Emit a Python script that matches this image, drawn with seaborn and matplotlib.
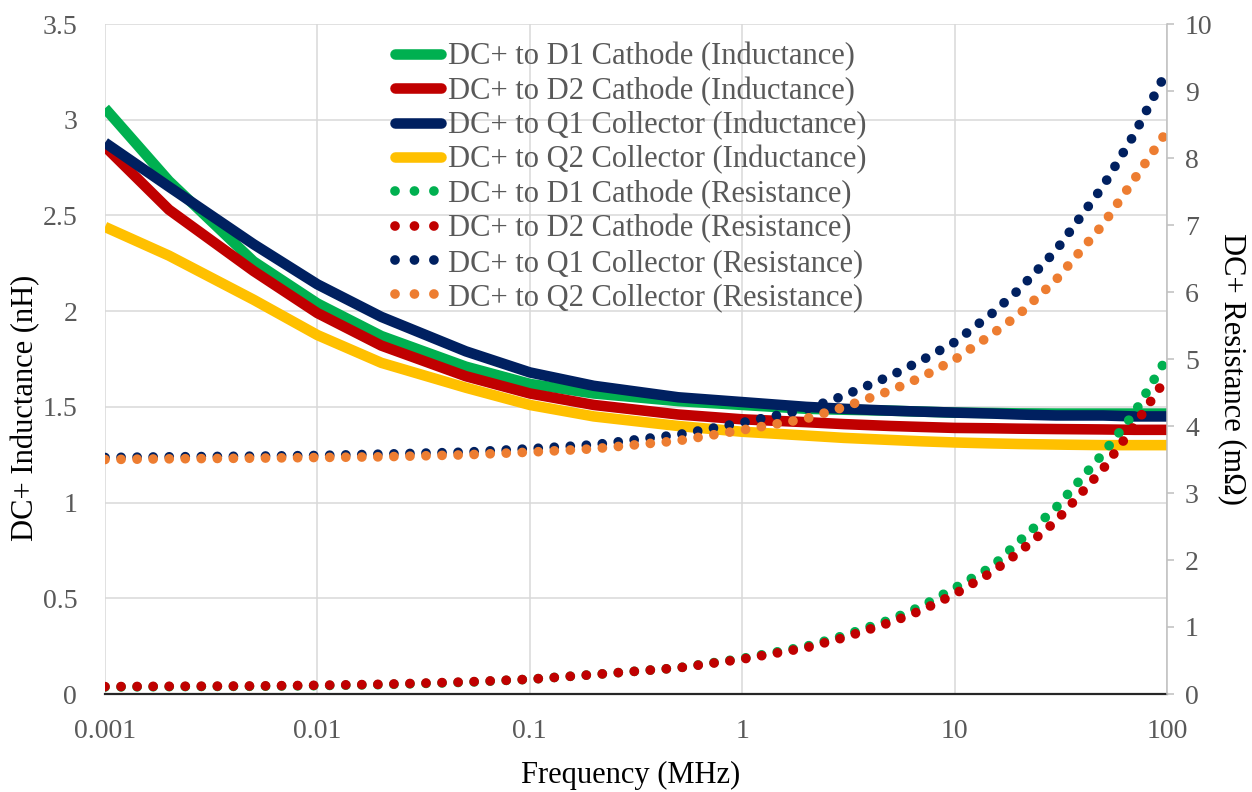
import numpy as np
import pandas as pd
import matplotlib
matplotlib.use("Agg")
import matplotlib.pyplot as plt
from matplotlib.lines import Line2D
from matplotlib.ticker import FixedLocator, FixedFormatter
import seaborn as sns

# Frequency sweep (MHz)
freq_mhz = [0.001, 0.002, 0.005, 0.01, 0.02, 0.05, 0.1, 0.2, 0.5, 1,
            2, 3, 5, 7, 10, 15, 20, 30, 50, 70, 100]

# Loop inductance (nH)
ind_d1 = [3.06, 2.68, 2.26, 2.04, 1.87, 1.71, 1.62, 1.57, 1.53, 1.51,
          1.49, 1.485, 1.48, 1.475, 1.47, 1.468, 1.466, 1.465, 1.465, 1.465, 1.465]
ind_d2 = [2.86, 2.53, 2.21, 1.99, 1.82, 1.66, 1.57, 1.51, 1.46, 1.435,
          1.42, 1.41, 1.40, 1.395, 1.39, 1.388, 1.386, 1.384, 1.382, 1.38, 1.38]
ind_q1 = [2.88, 2.65, 2.35, 2.14, 1.97, 1.79, 1.68, 1.61, 1.55, 1.525,
          1.50, 1.49, 1.48, 1.475, 1.47, 1.465, 1.46, 1.455, 1.455, 1.45, 1.45]
ind_q2 = [2.44, 2.29, 2.06, 1.875, 1.73, 1.60, 1.51, 1.45, 1.40, 1.37,
          1.35, 1.338, 1.327, 1.32, 1.314, 1.309, 1.306, 1.303, 1.30, 1.30, 1.30]

# Loop resistance (mOhm)
res_d1 = [0.105, 0.11, 0.115, 0.125, 0.14, 0.175, 0.22, 0.29, 0.39, 0.53,
          0.71, 0.87, 1.11, 1.31, 1.58, 1.90, 2.27, 2.78, 3.59, 4.19, 5.02]
res_d2 = [0.11, 0.115, 0.12, 0.13, 0.145, 0.18, 0.22, 0.29, 0.39, 0.52,
          0.69, 0.84, 1.07, 1.25, 1.49, 1.82, 2.11, 2.58, 3.36, 4.00, 4.73]
res_q1 = [3.53, 3.54, 3.55, 3.56, 3.58, 3.61, 3.66, 3.72, 3.87, 4.05,
          4.25, 4.45, 4.75, 4.98, 5.25, 5.68, 6.03, 6.62, 7.58, 8.35, 9.30]
res_q2 = [3.50, 3.51, 3.52, 3.53, 3.54, 3.57, 3.61, 3.66, 3.78, 3.94,
          4.11, 4.28, 4.53, 4.73, 4.99, 5.37, 5.66, 6.18, 7.01, 7.68, 8.40]

labels_ind = ["DC+ to D1 Cathode (Inductance)", "DC+ to D2 Cathode (Inductance)",
              "DC+ to Q1 Collector (Inductance)", "DC+ to Q2 Collector (Inductance)"]
labels_res = ["DC+ to D1 Cathode (Resistance)", "DC+ to D2 Cathode (Resistance)",
              "DC+ to Q1 Collector (Resistance)", "DC+ to Q2 Collector (Resistance)"]
colors_ind = ["#00B050", "#C00000", "#002060", "#FFC000"]
colors_res = ["#00B050", "#C00000", "#002060", "#ED7D31"]

x_ticks = [0.001, 0.01, 0.1, 1, 10, 100]
x_ticklabels = ["0.001", "0.01", "0.1", "1", "10", "100"]
l_ticks = [0, 0.5, 1, 1.5, 2, 2.5, 3, 3.5]
l_ticklabels = ["0", "0.5", "1", "1.5", "2", "2.5", "3", "3.5"]
r_ticks = list(range(0, 11))

sns.set_theme(style="white")
plt.rcParams["font.family"] = ["Liberation Serif", "DejaVu Serif"]

TXT = "#595959"
FS_TICK = 20
FS_TITLE = 22
FS_LEG = 22

W, H = 1252, 792
fig = plt.figure(figsize=(W / 100, H / 100), dpi=100)
ax = fig.add_axes([105 / W, 1 - 694 / H, (1167 - 105) / W, (694 - 24) / H])
ax2 = ax.twinx()

ind_df = pd.DataFrame({"f": freq_mhz * 4,
                       "v": ind_d1 + ind_d2 + ind_q1 + ind_q2,
                       "s": sum([[l] * len(freq_mhz) for l in labels_ind], [])})
res_df = pd.DataFrame({"f": freq_mhz * 4,
                       "v": res_d1 + res_d2 + res_q1 + res_q2,
                       "s": sum([[l] * len(freq_mhz) for l in labels_res], [])})

LW_SOLID = 7.6
LW_DOT = 7.0
dot_pattern = (0, (0.001, 1.65))

# Inductance on the left axis, resistance (round dots) on the right axis
for lab, col in zip(labels_ind, colors_ind):
    sns.lineplot(data=ind_df[ind_df.s == lab], x="f", y="v", ax=ax, color=col,
                 lw=LW_SOLID, solid_capstyle="butt", solid_joinstyle="round",
                 legend=False)
for lab, col in zip(labels_res, colors_res):
    sns.lineplot(data=res_df[res_df.s == lab], x="f", y="v", ax=ax2, color=col,
                 lw=LW_DOT, linestyle=dot_pattern, dash_capstyle="round",
                 legend=False)

for a in (ax, ax2):
    a.set_xscale("log")
    a.set_xlim(0.001, 100)
    a.set_xlabel("")
    a.set_ylabel("")

ax.set_ylim(0, 3.5)
ax2.set_ylim(0, 10)

ax.xaxis.set_major_locator(FixedLocator(x_ticks))
ax.xaxis.set_major_formatter(FixedFormatter(x_ticklabels))
ax.xaxis.set_minor_locator(FixedLocator([]))
ax.yaxis.set_major_locator(FixedLocator(l_ticks))
ax.yaxis.set_major_formatter(FixedFormatter(l_ticklabels))
ax2.yaxis.set_major_locator(FixedLocator(r_ticks))
ax2.yaxis.set_major_formatter(FixedFormatter([str(t) for t in r_ticks]))

ax.grid(True, which="major", color="#D9D9D9", lw=1.1)
ax.set_axisbelow(True)
ax2.grid(False)

for a in (ax, ax2):
    for side in ("top", "left", "right"):
        a.spines[side].set_visible(False)
ax2.spines["right"].set_visible(True)
ax2.spines["right"].set_color("#BFBFBF")
ax2.spines["right"].set_linewidth(1.1)
ax.spines["bottom"].set_color("#262626")
ax.spines["bottom"].set_linewidth(1.6)
ax2.spines["bottom"].set_visible(False)

ax.tick_params(axis="x", length=0, pad=18, labelsize=FS_TICK, labelcolor=TXT)
ax.tick_params(axis="y", length=0, pad=20, labelsize=FS_TICK, labelcolor=TXT)
ax2.tick_params(axis="y", length=5, width=1.1, color="#BFBFBF", pad=8,
                labelsize=FS_TICK, labelcolor=TXT, direction="out")

# Axis titles
fig.text(631 / W, 1 - 775 / H, "Frequency (MHz)", fontsize=FS_TITLE,
         color="#000000", ha="center", va="center")
fig.text(26 / W, 1 - 408 / H, "DC+ Inductance (nH)", fontsize=FS_TITLE,
         color="#000000", ha="center", va="center", rotation=90)
fig.text(1232 / W, 1 - 369 / H, "DC+ Resistance (mΩ)", fontsize=FS_TITLE,
         color="#000000", ha="center", va="center", rotation=270)

handles = []
for col in colors_ind:
    handles.append(Line2D([], [], color=col, lw=LW_SOLID, solid_capstyle="round"))
for col in colors_res:
    handles.append(Line2D([], [], color=col, lw=LW_DOT, linestyle=(0, (0.001, 2.0)),
                          dash_capstyle="round"))
leg = ax2.legend(handles, labels_ind + labels_res, loc="upper left",
                 bbox_to_anchor=(395 / W, 1 - 42 / H),
                 bbox_transform=fig.transFigure, frameon=False, fontsize=FS_LEG,
                 handlelength=1.5, handletextpad=0.23, labelspacing=0.17,
                 borderpad=0, borderaxespad=0)
for t in leg.get_texts():
    t.set_color(TXT)

fig.savefig("out.png", dpi=100)
